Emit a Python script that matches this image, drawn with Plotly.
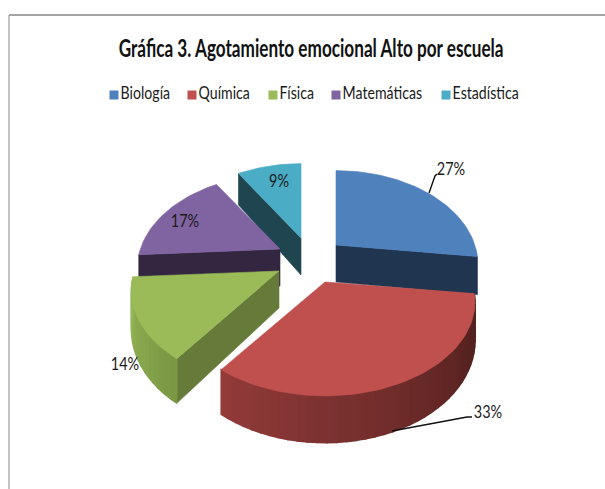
import math
import plotly.graph_objects as go

# ---- data ----
categories = ["Biología", "Química", "Física", "Matemáticas", "Estadística"]
values = [27, 33, 14, 17, 9]
title_text = "Gráfica 3. Agotamiento emocional Alto por escuela"

# ---- style ----
top_colors = ["#4F81BD", "#C0504D", "#9BBB59", "#8064A2", "#4BACC6"]
cut_colors = ["#1F3550", "#5A2422", "#667B39", "#332640", "#1F4650"]
wall_colors = {1: ((74, 29, 27), (146, 59, 57)), 2: ((122, 152, 68), (152, 184, 88))}
pull_x = [30, 19, -27, -26, -5]
pull_y = [-15, 22, 11, -11, -22]
FONT = "Lato, sans-serif"
TEXT = "#1a1a1a"
CX, CY, RX, RY, K, DEPTH, PERSP = 306, 260, 142, 90, 0.21, 37, 0.0015

fig = go.Figure()


def poly(pts, fill, width=0.6):
    xs = [p[0] for p in pts] + [pts[0][0]]
    ys = [p[1] for p in pts] + [pts[0][1]]
    fig.add_trace(go.Scatter(x=xs, y=ys, mode="lines", fill="toself", fillcolor=fill,
                             line=dict(color=fill, width=width),
                             hoverinfo="skip", showlegend=False))


total = sum(values)
edges = [0.0]
for v in values:
    edges.append(edges[-1] + v / total * 360)


def apex(i):
    return CX + pull_x[i], CY + pull_y[i]


def rim(i, deg):
    a = math.radians(deg)
    v = -math.cos(a)
    s = 1 / (1 - K * v)
    ax, ay = apex(i)
    return ax + RX * (1 + PERSP * pull_y[i]) * math.sin(a) * s, ay + RY * v * s


def depth_at(deg):
    return DEPTH / (1 + K * math.cos(math.radians(deg)))


def down(p, d):
    return (p[0], p[1] + d)


def arc(a0, a1, step=2.0):
    n = max(2, int(abs(a1 - a0) / step))
    return [a0 + (a1 - a0) * j / n for j in range(n + 1)]


def cut_face(i, deg):
    a = apex(i)
    r = rim(i, deg)
    poly([a, r, down(r, depth_at(deg)), down(a, DEPTH)], cut_colors[i])


def wall(i, a0, a1):
    angs = arc(a0, a1, 3.0)
    lo, hi = wall_colors[i]
    for j in range(len(angs) - 1):
        t = j / (len(angs) - 2)
        c = "rgb(%d,%d,%d)" % tuple(round(lo[q] + (hi[q] - lo[q]) * t) for q in range(3))
        p0, p1 = rim(i, angs[j]), rim(i, angs[j + 1])
        poly([p0, p1, down(p1, depth_at(angs[j + 1])), down(p0, depth_at(angs[j]))], c, 1.4)


def top(i):
    poly([apex(i)] + [rim(i, d) for d in arc(edges[i], edges[i + 1])], top_colors[i])


# back to front
cut_face(4, edges[4]); top(4)
cut_face(3, edges[3]); top(3)
cut_face(0, edges[1]); top(0)
cut_face(2, edges[2]); wall(2, edges[2], edges[3]); top(2)
wall(1, edges[1], edges[2]); top(1)

# leader lines
leaders = [([429, 435, 437], [193, 176, 174]), ([392, 467, 472], [431, 417, 417])]
for lx, ly in leaders:
    fig.add_trace(go.Scatter(x=lx, y=ly, mode="lines", line=dict(color="#111", width=1.4),
                             hoverinfo="skip", showlegend=False))

# percent labels
label_x = [451, 488, 125, 185, 279]
label_y = [171, 414, 366, 223, 183]
fig.add_trace(go.Scatter(x=label_x, y=label_y, mode="text",
                         text=[f"{round(v / total * 100)}%" for v in values],
                         textfont=dict(family=FONT, size=17, color=TEXT),
                         textposition="middle center", hoverinfo="skip", showlegend=False))

# legend row
legend_x = [114, 192, 273, 336, 446]
for name, col, lx in zip(categories, top_colors, legend_x):
    fig.add_trace(go.Scatter(x=[lx], y=[95], mode="markers+text", text=[name],
                             textposition="middle right",
                             marker=dict(symbol="square", size=9, color=col),
                             textfont=dict(family=FONT, size=18, color=TEXT),
                             hoverinfo="skip", showlegend=False))

# title
fig.add_annotation(x=311, y=47, text=f"<b>{title_text}</b>", showarrow=False,
                   font=dict(family=FONT, size=24, color="#111"), xref="x", yref="y")

# frame
fig.add_shape(type="line", x0=9, y0=15, x1=605, y1=15, line=dict(color="#868686", width=1.6))
fig.add_shape(type="line", x0=9, y0=15, x1=9, y1=489, line=dict(color="#9a9a9a", width=1.2))

fig.update_layout(width=605, height=489, margin=dict(l=0, r=0, t=0, b=0),
                  paper_bgcolor="white", plot_bgcolor="white", showlegend=False,
                  xaxis=dict(range=[0, 605], visible=False, fixedrange=True),
                  yaxis=dict(range=[489, 0], visible=False, fixedrange=True))

# the reference text is horizontally condensed; no narrow font is installed
condense = """
document.body.style.margin='0';document.body.style.overflow='hidden';
function squeeze(t,sx){var x=parseFloat(t.getAttribute('x'))||0;var old=t.getAttribute('transform')||'';
t.setAttribute('transform',old+' translate('+x+',0) scale('+sx+',1) translate('+(-x)+',0)');}
document.querySelectorAll('.textpoint text').forEach(function(t){
 squeeze(t,parseFloat(t.style.fontSize)>=18?0.785:0.85);});
document.querySelectorAll('.annotation-text').forEach(function(t){squeeze(t,0.715);});
"""
fig.write_html("out.html", config={"displayModeBar": False}, post_script=condense)
